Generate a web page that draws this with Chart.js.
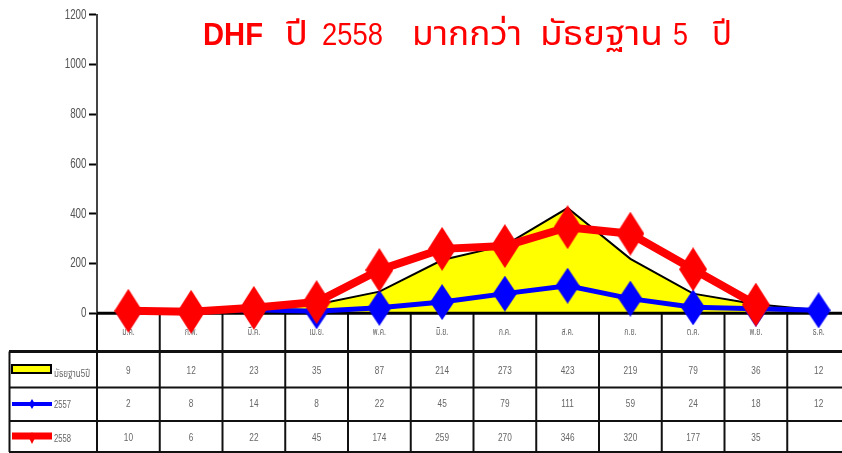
<!DOCTYPE html>
<html>
<head>
<meta charset="utf-8">
<script src="https://cdn.jsdelivr.net/npm/chart.js@4"></script>
<style>
  html, body { margin: 0; padding: 0; background: #fff; overflow: hidden; }
  #wrap { position: relative; width: 842px; height: 453px; overflow: hidden; }
  #chart { position: absolute; left: 0; top: 0; }
</style>
</head>
<body>
<div id="wrap">
  <canvas id="chart" width="852" height="453"></canvas>
</div>
<script>
// data
const months = ["ม.ค.", "ก.พ.", "มี.ค.", "เม.ย.", "พ.ค.", "มิ.ย.", "ก.ค.", "ส.ค.", "ก.ย.", "ต.ค.", "พ.ย.", "ธ.ค."];
const median5y = [9, 12, 23, 35, 87, 214, 273, 423, 219, 79, 36, 12];
const y2557 = [2, 8, 14, 8, 22, 45, 79, 111, 59, 24, 18, 12];
const y2558 = [10, 6, 22, 45, 174, 259, 270, 346, 320, 177, 35, null];
const seriesNames = ["มัธยฐาน5ปี", "2557", "2558"];
const yTicks = [0, 200, 400, 600, 800, 1000, 1200];
const titleWords = ["DHF", "ปี", "2558", "มากกว่า", "มัธยฐาน", "5", "ปี"];

const sans = '"Liberation Sans", "Noto Sans Thai", sans-serif';

// title word boxes [left, width, size, bold]
const titleBoxes = [
  [203, 60, 31, true], [285, 23, 34, false], [322, 61, 31, false],
  [412, 110, 34, false], [540, 123, 34, false], [673, 15, 31, false], [712, 20, 34, false]
];

// text squeezed horizontally (the original uses a condensed face)
function squeezed(ctx, text, x, y, sx, align) {
  ctx.save();
  ctx.translate(x, y);
  ctx.scale(sx, 1);
  ctx.textAlign = align || "center";
  ctx.fillText(text, 0, 0);
  ctx.restore();
}

// text fitted into a given width
function fitted(ctx, text, left, y, w) {
  const m = ctx.measureText(text).width;
  ctx.save();
  ctx.translate(left, y);
  ctx.scale(w / m, 1);
  ctx.textAlign = "left";
  ctx.fillText(text, 0, 0);
  ctx.restore();
}

// diamond marker, a bit taller than wide
function diamond(w, h, color) {
  const c = document.createElement("canvas");
  c.width = w; c.height = h;
  const g = c.getContext("2d");
  g.fillStyle = color;
  g.beginPath();
  g.moveTo(w / 2, 0); g.lineTo(w, h / 2); g.lineTo(w / 2, h); g.lineTo(0, h / 2);
  g.closePath();
  g.fill();
  return c;
}

const tablePlugin = {
  id: "dataTable",
  beforeDatasetsDraw(chart) {
    const { ctx, chartArea } = chart;
    const x = chart.scales.x;
    const y = chart.scales.y;
    const top = chartArea.bottom;
    const rows = [top, 351.5, 387.5, 421, 452];
    const left = chartArea.left;
    const right = chartArea.right;
    const colW = (right - left) / months.length;

    ctx.save();
    // y tick labels
    ctx.fillStyle = "#555";
    ctx.font = "14px " + sans;
    ctx.textBaseline = "middle";
    yTicks.forEach(v => squeezed(ctx, String(v), 86.5, y.getPixelForValue(v), 0.7, "right"));

    ctx.strokeStyle = "#111";
    ctx.lineWidth = 2;
    for (let i = 0; i <= months.length; i++) {
      const lx = left + i * colW;
      ctx.beginPath(); ctx.moveTo(lx, top); ctx.lineTo(lx, rows[4]); ctx.stroke();
    }
    ctx.beginPath(); ctx.moveTo(9.5, rows[1]); ctx.lineTo(9.5, rows[4]); ctx.stroke();
    ctx.lineWidth = 3;
    ctx.beginPath(); ctx.moveTo(9, rows[1]); ctx.lineTo(right, rows[1]); ctx.stroke();
    ctx.lineWidth = 2;
    [rows[2], rows[3], rows[4]].forEach(ry => {
      ctx.beginPath(); ctx.moveTo(9, ry); ctx.lineTo(right, ry); ctx.stroke();
    });

    // month labels
    ctx.fillStyle = "#666";
    ctx.textBaseline = "alphabetic";
    ctx.font = "10px " + sans;
    months.forEach((m, i) => squeezed(ctx, m, x.getPixelForValue(i), 335, 0.7));

    // values
    ctx.font = "11px " + sans;
    const baselines = [373.5, 407, 441];
    [median5y, y2557, y2558].forEach((arr, r) => {
      arr.forEach((v, i) => {
        if (v !== null) squeezed(ctx, String(v), x.getPixelForValue(i), baselines[r], 0.75);
      });
    });

    // legend keys
    ctx.font = "11px " + sans;
    ctx.fillStyle = "#ffff00";
    ctx.fillRect(12, 365, 39, 8);
    ctx.lineWidth = 2;
    ctx.strokeStyle = "#000";
    ctx.strokeRect(12, 365, 39, 8);
    ctx.fillStyle = "#666";
    fitted(ctx, seriesNames[0], 54, 377, 36);

    ctx.strokeStyle = "#0000ff";
    ctx.lineWidth = 4;
    ctx.beginPath(); ctx.moveTo(12, 404); ctx.lineTo(52, 404); ctx.stroke();
    ctx.drawImage(diamond(6, 10, "#0000ff"), 29, 399);
    ctx.fillStyle = "#666";
    fitted(ctx, seriesNames[1], 54, 408, 17);

    ctx.strokeStyle = "#ff0000";
    ctx.lineWidth = 7;
    ctx.beginPath(); ctx.moveTo(12, 436); ctx.lineTo(52, 436); ctx.stroke();
    ctx.drawImage(diamond(6, 12, "#ff0000"), 29, 432);
    ctx.fillStyle = "#666";
    fitted(ctx, seriesNames[2], 54, 442, 17);
    ctx.restore();
  },
  afterDatasetDraw(chart, args) {
    if (args.index !== 0) return;
    // x axis line over the yellow area, under the year series
    const { ctx, chartArea } = chart;
    ctx.save();
    ctx.strokeStyle = "#000";
    ctx.lineWidth = 3;
    ctx.beginPath();
    ctx.moveTo(chartArea.left, chartArea.bottom);
    ctx.lineTo(chartArea.right, chartArea.bottom);
    ctx.stroke();
    ctx.restore();
  },
  afterDraw(chart) {
    const ctx = chart.ctx;
    ctx.save();
    ctx.fillStyle = "#ff0000";
    ctx.textBaseline = "alphabetic";
    titleWords.forEach((w, i) => {
      const [l, wd, size, bold] = titleBoxes[i];
      ctx.font = (bold ? "bold " : "") + size + "px " + sans;
      fitted(ctx, w, l, 44.5, wd);
    });
    ctx.restore();
  }
};

new Chart(document.getElementById("chart"), {
  type: "line",
  data: {
    labels: months,
    datasets: [
      {
        label: seriesNames[0],
        data: median5y,
        borderColor: "#000",
        borderWidth: 2,
        backgroundColor: "#ffff00",
        fill: "origin",
        pointRadius: 0,
        order: 3
      },
      {
        label: seriesNames[1],
        data: y2557,
        borderColor: "#0000ff",
        borderWidth: 5,
        pointStyle: diamond(24, 36, "#0000ff"),
        pointRadius: 12,
        clip: false,
        order: 2
      },
      {
        label: seriesNames[2],
        data: y2558,
        borderColor: "#ff0000",
        borderWidth: 8,
        pointStyle: diamond(28, 44, "#ff0000"),
        pointRadius: 14,
        clip: false,
        order: 1
      }
    ]
  },
  options: {
    responsive: false,
    animation: false,
    layout: { autoPadding: false, padding: { top: 14.7, right: 2, bottom: 139.7, left: 0 } },
    elements: { line: { tension: 0 } },
    scales: {
      x: { display: false, offset: true },
      y: {
        min: 0,
        max: 1200,
        afterFit(scale) { scale.width = 97; },
        afterBuildTicks(scale) { scale.ticks = yTicks.map(v => ({ value: v })); },
        border: { color: "#444", width: 2 },
        grid: { drawOnChartArea: false, tickLength: 8, tickColor: "#000", tickWidth: 2 },
        ticks: { display: false }
      }
    },
    plugins: {
      legend: { display: false },
      tooltip: { enabled: false },
      title: { display: false }
    }
  },
  plugins: [tablePlugin]
});
</script>
</body>
</html>
